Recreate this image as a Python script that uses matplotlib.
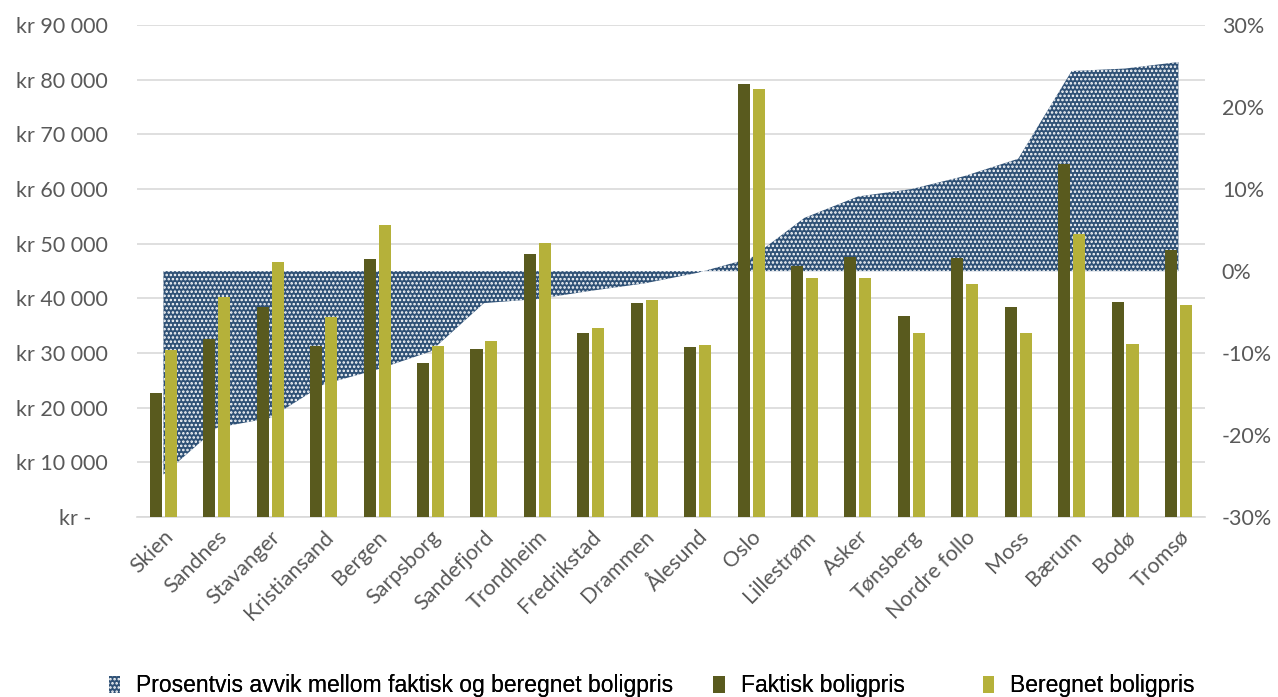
import numpy as np
import matplotlib
matplotlib.use("Agg")
import matplotlib.pyplot as plt
from matplotlib.patches import Patch
from matplotlib.ticker import FuncFormatter

# --- Data ---
kommuner = ["Skien", "Sandnes", "Stavanger", "Kristiansand", "Bergen", "Sarpsborg",
            "Sandefjord", "Trondheim", "Fredrikstad", "Drammen", "Ålesund", "Oslo",
            "Lillestrøm", "Asker", "Tønsberg", "Nordre follo", "Moss", "Bærum",
            "Bodø", "Tromsø"]
faktisk = [22700, 32600, 38400, 31300, 47200, 28200, 30700, 48100, 33600, 39100,
           31100, 79200, 45900, 47600, 36800, 47400, 38400, 64600, 39300, 48800]
beregnet = [30500, 40200, 46600, 36600, 53400, 31300, 32200, 50100, 34600, 39700,
            31400, 78300, 43700, 43700, 33600, 42600, 33600, 51800, 31600, 38800]
avvik = [-24.8, -19.1, -17.9, -13.8, -12.0, -9.8, -3.9, -3.4, -2.4, -1.5,
         -0.2, 1.6, 6.5, 9.1, 10.0, 11.6, 13.7, 24.4, 24.7, 25.5]

DARK = "#595A1E"
LIGHT = "#B5B13A"
AREA = "#2F5176"
GREY = "#595959"
TICKFONT = {"family": "Lato", "size": 15.5}

plt.rcParams["hatch.linewidth"] = 1.2

fig = plt.figure(figsize=(12.78, 6.97), dpi=100)
ax = fig.add_axes([0.107, 0.258, 0.836, 0.706])
ax2 = ax.twinx()
ax3 = ax.twinx()

x = np.arange(len(kommuner))

# grid layer (bottom)
ax.set_ylim(0, 90000)
ax.set_yticks(np.arange(0, 90001, 10000))
ax.yaxis.set_major_formatter(FuncFormatter(
    lambda v, p: "kr -   " if v == 0 else "kr " + f"{int(v):,}".replace(",", " ")))
ax.grid(axis="y", color="#D9D9D9", linewidth=1.2)
ax.set_axisbelow(True)
ax.set_xlim(-0.5, len(kommuner) - 0.5)
ax.set_xticks(x)
ax.set_xticklabels(kommuner, rotation=45, ha="right", rotation_mode="anchor")
ax.tick_params(axis="x", length=0, pad=7, labelcolor=GREY)
ax.tick_params(axis="y", length=0, pad=21, labelcolor=GREY)
for s in ["top", "right", "left"]:
    ax.spines[s].set_visible(False)
ax.spines["bottom"].set_color("#D9D9D9")
ax.spines["bottom"].set_linewidth(1.2)

# percent area (middle)
ax2.fill_between(x, 0, avvik, facecolor=AREA, edgecolor="white", hatch="....", linewidth=0)
ax2.set_ylim(-30, 30)
ax2.set_yticks(np.arange(-30, 31, 10))
ax2.yaxis.set_major_formatter(FuncFormatter(lambda v, p: f"{int(v)}%"))
ax2.tick_params(axis="y", length=0, pad=12, labelcolor=GREY)
for s in ax2.spines.values():
    s.set_visible(False)

# bars (top)
w = 0.225
ax3.bar(x - 0.14, faktisk, w, color=DARK)
ax3.bar(x + 0.14, beregnet, w, color=LIGHT)
ax3.set_ylim(ax.get_ylim())
ax3.set_yticks([])
for s in ax3.spines.values():
    s.set_visible(False)

for lab in ax.get_xticklabels() + ax.get_yticklabels() + ax2.get_yticklabels():
    lab.set_fontfamily(TICKFONT["family"])
    lab.set_fontsize(TICKFONT["size"])

# legend entries placed like the original (uneven spacing)
entries = [
    (Patch(facecolor=AREA, edgecolor="white", hatch="....", linewidth=0,
           label="Prosentvis avvik mellom faktisk og beregnet boligpris"), 0.085),
    (Patch(facecolor=DARK, label="Faktisk boligpris"), 0.558),
    (Patch(facecolor=LIGHT, label="Beregnet boligpris"), 0.769),
]
for handle, xpos in entries:
    leg = fig.legend(handles=[handle], loc="center left", bbox_to_anchor=(xpos, 0.016),
                     frameon=False, handlelength=0.5, handleheight=0.75, handletextpad=0.7,
                     borderpad=0, borderaxespad=0,
                     prop={"family": "Liberation Sans", "size": 16.5})
    fig.add_artist(leg)

fig.savefig("out.png", dpi=100)
